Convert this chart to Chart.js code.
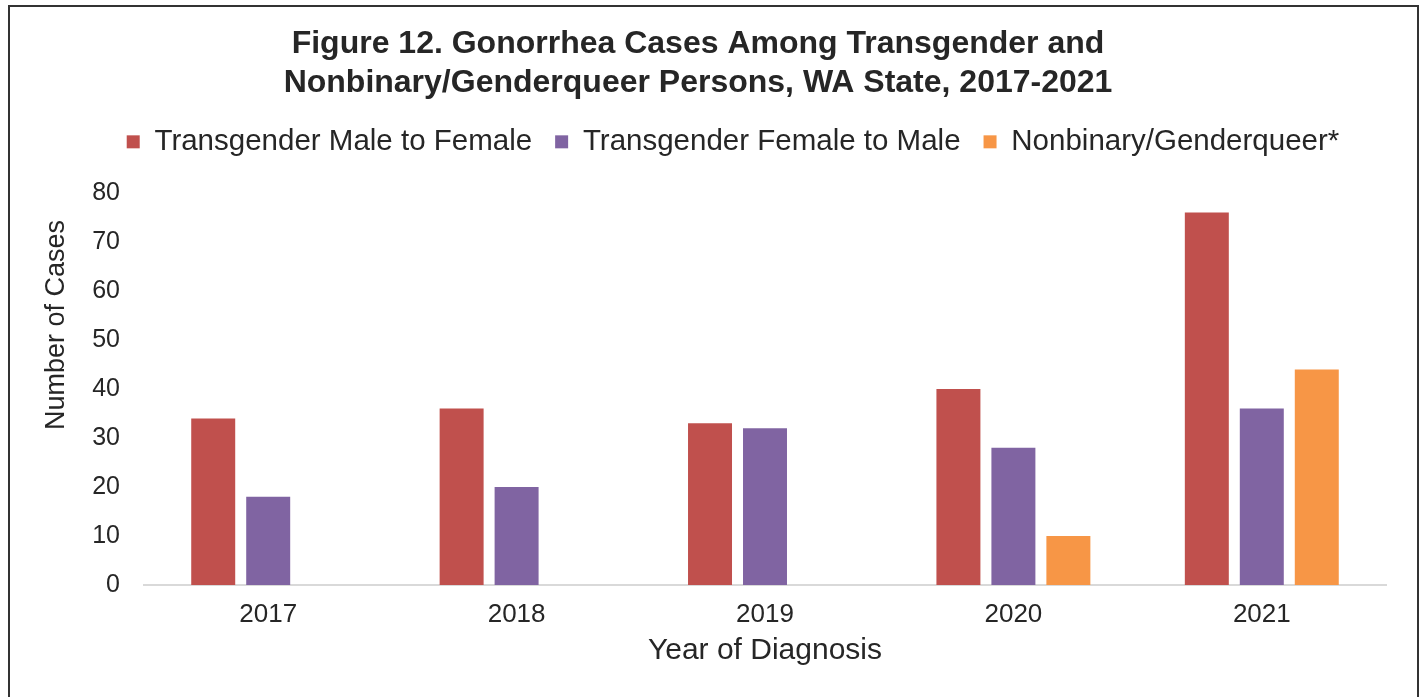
<!DOCTYPE html>
<html>
<head>
<meta charset="utf-8">
<script src="https://cdn.jsdelivr.net/npm/chart.js@4.4.1/dist/chart.umd.min.js"></script>
<style>
  body { margin: 0; background: #fff; }
  #frame { position: absolute; left: 8px; top: 5px; width: 1407px; height: 720px; border: 2px solid #333; }
  canvas { display: block; }
</style>
</head>
<body>
<div id="frame"><canvas id="gonorrheaChart" width="1407" height="700"></canvas></div>
<script>
const years = ['2017', '2018', '2019', '2020', '2021'];
const maleToFemale = [34, 36, 33, 40, 76];
const femaleToMale = [18, 20, 32, 28, 36];
const nonbinary = [null, null, null, 10, 44];
const yMin = 0, yMax = 80, yStep = 10;

const FONT = "'Liberation Sans', Arial, sans-serif";
const TEXT = '#262626';

// extra room under the legend, and nudge legend right like the original
const legendSpacing = {
    id: 'legendSpacing',
    beforeInit(chart) {
        const origFit = chart.legend.fit;
        chart.legend.fit = function () {
            origFit.call(this);
            this.height += 26.4;
        };
    },
    afterLayout(chart) {
        chart.legend.left += 35;
        chart.legend.right += 35;
    }
};

const ctx = document.getElementById('gonorrheaChart').getContext('2d');

const chart = new Chart(ctx, {
    type: 'bar',
    data: {
        labels: years,
        datasets: [
            { label: 'Transgender Male to Female', data: maleToFemale, backgroundColor: '#C0504D' },
            { label: 'Transgender Female to Male', data: femaleToMale, backgroundColor: '#8064A2' },
            { label: 'Nonbinary/Genderqueer*', data: nonbinary, backgroundColor: '#F79646' }
        ]
    },
    options: {
        responsive: false,
        animation: false,
        barPercentage: 0.8,
        categoryPercentage: 0.664,
        layout: { padding: { top: 0, left: 0, right: 31, bottom: 38 } },
        plugins: {
            title: {
                display: true,
                text: ['Figure 12. Gonorrhea Cases Among Transgender and',
                       'Nonbinary/Genderqueer Persons, WA State, 2017-2021'],
                color: TEXT,
                font: { family: FONT, size: 32, weight: 'bold', lineHeight: 1.22 },
                padding: { top: 17.5, bottom: 1.5 }
            },
            legend: {
                display: true,
                labels: {
                    color: TEXT,
                    font: { family: FONT, size: 29.5 },
                    boxWidth: 13,
                    boxHeight: 13,
                    padding: 23
                }
            },
            tooltip: { enabled: false }
        },
        scales: {
            x: {
                grid: { display: false, drawTicks: false },
                border: { display: true, color: '#D9D9D9', width: 2 },
                ticks: { color: TEXT, font: { family: FONT, size: 26 }, padding: 14 },
                title: {
                    display: true,
                    text: 'Year of Diagnosis',
                    color: TEXT,
                    font: { family: FONT, size: 30, lineHeight: 1.2 },
                    padding: { top: 0, bottom: 0 }
                },
                afterFit(scale) { scale.height = 84; }
            },
            y: {
                min: yMin,
                max: yMax,
                grid: { display: false, drawTicks: false },
                border: { display: false },
                ticks: { stepSize: yStep, color: TEXT, font: { family: FONT, size: 25 }, padding: 24 },
                title: {
                    display: true,
                    // title sits near the top of the axis in the original
                    text: 'Number of Cases   \u2006',
                    align: 'end',
                    color: TEXT,
                    font: { family: FONT, size: 27, lineHeight: 1.2 },
                    padding: { top: 30.8, bottom: 0 }
                },
                afterFit(scale) { scale.width = 134; }
            }
        }
    },
    plugins: [legendSpacing]
});
</script>
</body>
</html>
